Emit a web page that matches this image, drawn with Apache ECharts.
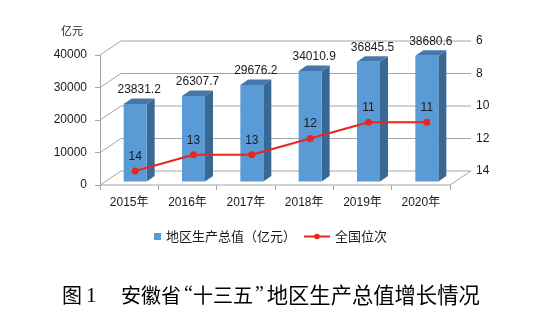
<!DOCTYPE html>
<html>
<head>
<meta charset="utf-8">
<script src="https://cdn.jsdelivr.net/npm/echarts@6/dist/echarts.min.js"></script>
<style>
  html, body { margin: 0; padding: 0; background: #fff; }
  #chart { width: 547px; height: 326px; }
</style>
</head>
<body>
<div id="chart"></div>
<script>
// Anhui GDP during the 13th Five-Year Plan period, with national ranking
const years = ['2015年', '2016年', '2017年', '2018年', '2019年', '2020年'];
const gdp = [23831.2, 26307.7, 29676.2, 34010.9, 36845.5, 38680.6];
const rank = [14, 13, 13, 12, 11, 11];
const gdpTicks = [0, 10000, 20000, 30000, 40000];
const rankTicks = [6, 8, 10, 12, 14];

const gdpName = '地区生产总值（亿元）';
const rankName = '全国位次';

const LATIN = '"Liberation Sans", Arial, sans-serif';
const CJK = '"Liberation Sans", "Noto Sans CJK SC", sans-serif';
const TEXT = '#1a1a1a';
const GRID_LINE = '#a6a6a6';

// depth of the 3D box (front plane -> back wall)
const DX = 21, DY = -14;
// bar placement inside the box
const BAR_OFF_X = 6, BAR_OFF_Y = -3.5, BAR_HALF = 11.5, BAR_DX = 8, BAR_DY = -5.5;

const chart = echarts.init(document.getElementById('chart'), null, { renderer: 'canvas' });

function renderFrame(params, api) {
  const cs = params.coordSys;
  const L = cs.x, W = cs.width;
  const v = api.value(1);
  const y = api.coord([0, v])[1];
  const style = { stroke: GRID_LINE, fill: null, lineWidth: 1 };
  const children = [{
    type: 'polyline',
    shape: { points: [[L, y], [L + DX, y + DY], [L + W + DX, y + DY]] },
    style: style
  }];
  if (v === 0) {
    children.push({
      type: 'polyline',
      shape: { points: [[L, y], [L + W, y], [L + W + DX, y + DY]] },
      style: style
    });
  }
  return { type: 'group', children: children };
}

function renderBar(params, api) {
  const i = api.value(0), v = api.value(1);
  const base = api.coord([i, 0]);
  const top = api.coord([i, v]);
  const cx = base[0] + BAR_OFF_X;
  const xl = cx - BAR_HALF, xr = cx + BAR_HALF;
  const yb = base[1] + BAR_OFF_Y, yt = top[1] + BAR_OFF_Y;
  return {
    type: 'group',
    children: [
      {
        type: 'polygon',
        shape: { points: [[xr, yt], [xr + BAR_DX, yt + BAR_DY], [xr + BAR_DX, yb + BAR_DY], [xr, yb]] },
        style: { fill: '#3a6894' }
      },
      {
        type: 'polygon',
        shape: { points: [[xl, yt], [xl + BAR_DX, yt + BAR_DY], [xr + BAR_DX, yt + BAR_DY], [xr, yt]] },
        style: { fill: '#4777aa' }
      },
      {
        type: 'rect',
        shape: { x: xl, y: yt, width: xr - xl, height: yb - yt },
        style: { fill: '#5b9bd5' }
      },
      {
        type: 'text',
        style: {
          text: String(v),
          x: cx + BAR_DX / 2,
          y: yt + BAR_DY - 3,
          align: 'center',
          verticalAlign: 'bottom',
          fill: TEXT,
          font: '12px ' + LATIN
        }
      }
    ]
  };
}

const option = {
  animation: false,
  backgroundColor: '#fff',
  grid: [
    { left: 100, top: 55, width: 350, height: 130 },
    { left: 106, top: 41, width: 350, height: 130 }
  ],
  xAxis: [
    {
      gridIndex: 0, type: 'category', data: years,
      axisLine: { show: false },
      axisTick: { show: true, length: 5, lineStyle: { color: GRID_LINE } },
      axisLabel: { margin: 12, color: TEXT, fontSize: 12, fontFamily: CJK }
    },
    { gridIndex: 1, type: 'category', data: years, show: false }
  ],
  yAxis: [
    {
      gridIndex: 0, type: 'value', min: 0, max: 40000, interval: 10000,
      axisLine: { show: true, lineStyle: { color: GRID_LINE } },
      axisTick: { show: true, length: 5, lineStyle: { color: GRID_LINE } },
      axisLabel: { margin: 13, color: TEXT, fontSize: 12, fontFamily: LATIN, formatter: v => String(v) },
      splitLine: { show: false }
    },
    {
      gridIndex: 1, type: 'value', min: 6, max: 14, interval: 2, inverse: true,
      position: 'right', offset: 15,
      axisLine: { show: false }, axisTick: { show: false },
      axisLabel: { margin: 5, color: TEXT, fontSize: 12, fontFamily: LATIN },
      splitLine: { show: false }
    }
  ],
  legend: [
    {
      data: [{ name: gdpName, icon: 'rect' }],
      left: 149, top: 225, itemWidth: 7, itemHeight: 7, itemGap: 4,
      textStyle: { color: TEXT, fontSize: 13, fontFamily: '"Noto Sans CJK SC", sans-serif' }
    },
    {
      data: [rankName],
      left: 298, top: 225, itemWidth: 26, itemHeight: 7,
      textStyle: { color: TEXT, fontSize: 13, fontFamily: '"Noto Sans CJK SC", sans-serif' }
    }
  ],
  series: [
    {
      name: 'frame', type: 'custom', xAxisIndex: 0, yAxisIndex: 0,
      renderItem: renderFrame, silent: true, z: 1,
      encode: { x: 0, y: 1 },
      data: gdpTicks.map(v => [0, v])
    },
    {
      name: gdpName, type: 'custom', xAxisIndex: 0, yAxisIndex: 0,
      renderItem: renderBar, z: 2,
      itemStyle: { color: '#5b9bd5' },
      encode: { x: 0, y: 1 },
      data: gdp.map((v, i) => [i, v])
    },
    {
      name: rankName, type: 'line', xAxisIndex: 1, yAxisIndex: 1, z: 5,
      data: rank,
      color: '#e8261e',
      lineStyle: { width: 2, color: '#e8261e' },
      symbol: 'circle', symbolSize: 7,
      itemStyle: { color: '#e8261e' },
      label: { show: true, position: 'top', distance: 5, color: TEXT, fontSize: 12, fontFamily: LATIN }
    }
  ],
  graphic: [
    {
      type: 'text', left: 61, top: 25,
      style: { text: '亿元', fill: TEXT, font: '11px "Noto Sans CJK SC", sans-serif' }
    },
    {
      type: 'text', x: 62, y: 295,
      style: { text: '图', fill: '#000', font: '20px "Noto Sans CJK SC", sans-serif', verticalAlign: 'middle' }
    },
    {
      type: 'text', x: 86, y: 296,
      style: { text: '1', fill: '#000', font: '21px "Liberation Serif", serif', verticalAlign: 'middle' }
    },
    {
      type: 'text', x: 121, y: 295,
      style: {
        text: '{c|安徽省}{q|“}{c|十三五}{p|”}{d|地区生产总值增长情况}',
        verticalAlign: 'middle',
        rich: {
          c: { fill: '#000', fontSize: 20, fontFamily: '"Noto Sans CJK SC", sans-serif' },
          d: { fill: '#000', fontSize: 21.3, fontFamily: '"Noto Sans CJK SC", sans-serif' },
          q: { fill: '#000', fontSize: 20, fontFamily: '"Liberation Serif", serif', padding: [0, 0, 0, 3] },
          p: { fill: '#000', fontSize: 20, fontFamily: '"Liberation Serif", serif', padding: [0, 3, 0, 2] }
        }
      }
    }
  ]
};

chart.setOption(option);
</script>
</body>
</html>
